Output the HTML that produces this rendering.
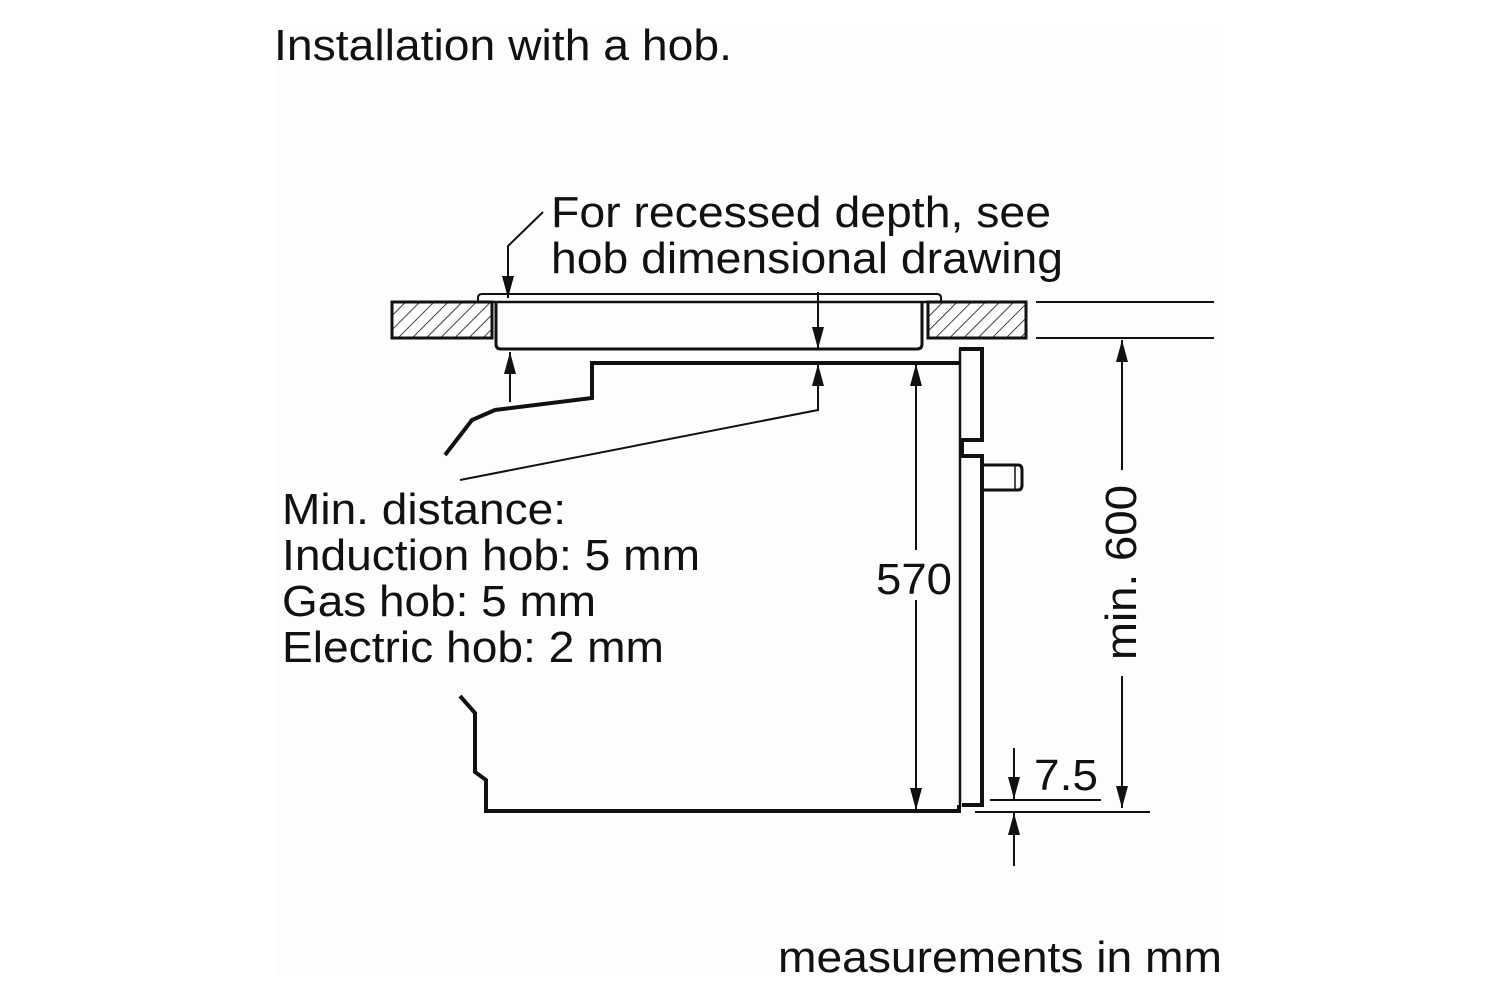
<!DOCTYPE html>
<html><head><meta charset="utf-8"><style>
html,body{margin:0;padding:0;background:#fff;}
svg{display:block}
text{font-family:"Liberation Sans",Arial,sans-serif;fill:#111;}
</style></head><body>
<svg width="1500" height="1000" viewBox="0 0 1500 1000" xmlns="http://www.w3.org/2000/svg">
<defs>
<pattern id="h" width="10" height="10" patternUnits="userSpaceOnUse" patternTransform="rotate(45)">
<line x1="0" y1="0" x2="0" y2="10" stroke="#111" stroke-width="1.6"/>
</pattern>
<marker id="a" viewBox="0 0 22 12" refX="22" refY="6" markerWidth="22" markerHeight="12" markerUnits="userSpaceOnUse" orient="auto"><path d="M0,0 L22,6 L0,12 z" fill="#111"/></marker>
</defs>
<rect x="276" y="25" width="946" height="950" fill="#fdfdfd"/>
<text x="274" y="60" font-size="44" textLength="458" lengthAdjust="spacingAndGlyphs">Installation with a hob.</text>
<text x="551" y="227" font-size="44" textLength="500" lengthAdjust="spacingAndGlyphs">For recessed depth, see</text>
<text x="551" y="273" font-size="44" textLength="512" lengthAdjust="spacingAndGlyphs">hob dimensional drawing</text>
<g font-size="44">
<text x="282" y="524" textLength="284" lengthAdjust="spacingAndGlyphs">Min. distance:</text>
<text x="282" y="570" textLength="418" lengthAdjust="spacingAndGlyphs">Induction hob: 5 mm</text>
<text x="282" y="616" textLength="314" lengthAdjust="spacingAndGlyphs">Gas hob: 5 mm</text>
<text x="282" y="662" textLength="382" lengthAdjust="spacingAndGlyphs">Electric hob: 2 mm</text>
</g>
<text x="876" y="594" font-size="44" textLength="76" lengthAdjust="spacingAndGlyphs">570</text>
<text x="1034" y="790" font-size="44" textLength="64" lengthAdjust="spacingAndGlyphs">7.5</text>
<text transform="translate(1136,660) rotate(-90)" font-size="44" textLength="175" lengthAdjust="spacingAndGlyphs">min. 600</text>
<text x="778" y="972" font-size="44" textLength="444" lengthAdjust="spacingAndGlyphs">measurements in mm</text>

<g fill="none" stroke="#111" stroke-width="3">
<rect x="392" y="302" width="100" height="36" fill="url(#h)"/>
<rect x="928" y="302" width="98" height="36" fill="url(#h)"/>
<line x1="1036" y1="302" x2="1214" y2="302" stroke-width="2"/>
<line x1="1036" y1="338" x2="1214" y2="338" stroke-width="2"/>
<path d="M478,302 L478,298 Q478,294 482,294 L937,294 Q941,294 941,298 L941,302" stroke-width="2"/>
<line x1="478" y1="302" x2="941" y2="302" stroke-width="2.5"/>
<path d="M496,302 L496,344 Q496,349 501,349 L917,349 Q922,349 922,344 L922,302"/>
<path d="M959,363 L592,363 L592,398 L495,410 L472,420 L445,455" stroke-width="4"/>
<path d="M460,696 L475,713 L475,772 L486,780 L486,811 L959,811 L959,805" stroke-width="4"/>
<path d="M959,349 L982,349 L982,440 L962,440 L962,456 L982,456 L982,805 L962,805" stroke-width="4"/>
<line x1="960" y1="349" x2="960" y2="807" stroke-width="2.5"/>
<path d="M982,465 L1018,465 Q1022,465 1022,470 L1022,485 Q1022,490 1018,490 L982,490" stroke-width="3"/>
<line x1="1015" y1="466" x2="1015" y2="489" stroke-width="1.5"/>
</g>
<g fill="none" stroke="#111" stroke-width="2">
<path d="M543,212 L508,246 L508,298" marker-end="url(#a)"/>
<line x1="818" y1="292" x2="818" y2="349" marker-end="url(#a)"/>
<path d="M460,480 L818,410 L818,364" marker-end="url(#a)"/>
<line x1="510" y1="402" x2="510" y2="352" marker-end="url(#a)"/>
<line x1="916" y1="550" x2="916" y2="364" marker-end="url(#a)"/>
<line x1="916" y1="600" x2="916" y2="810" marker-end="url(#a)"/>
<line x1="1122" y1="470" x2="1122" y2="340" marker-end="url(#a)"/>
<line x1="1122" y1="676" x2="1122" y2="808" marker-end="url(#a)"/>
<line x1="1014" y1="748" x2="1014" y2="799" marker-end="url(#a)"/>
<line x1="1014" y1="866" x2="1014" y2="813" marker-end="url(#a)"/>
<line x1="990" y1="800" x2="1101" y2="800"/>
<line x1="975" y1="812" x2="1150" y2="812"/>
</g>
</svg>
</body></html>
